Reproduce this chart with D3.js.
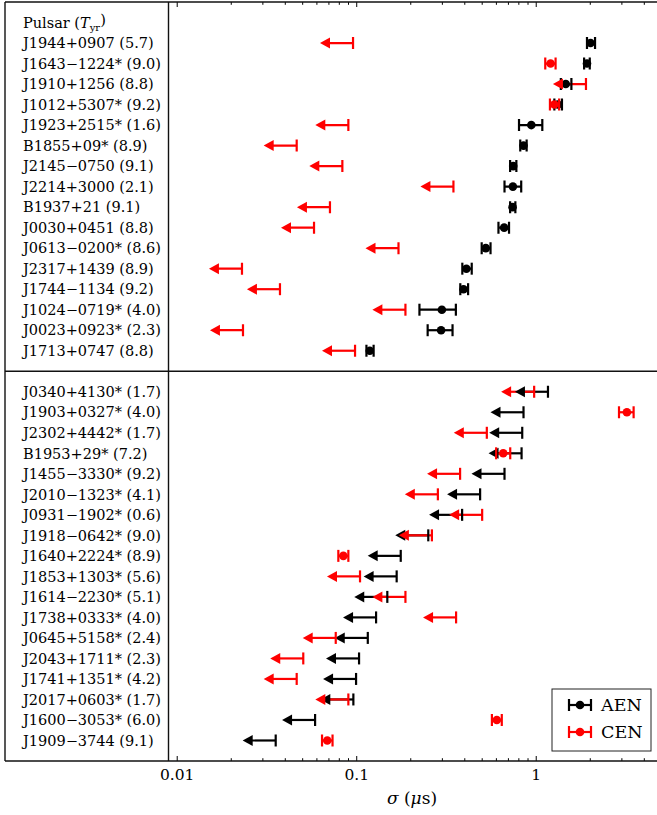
<!DOCTYPE html>
<html>
<head>
<meta charset="utf-8">
<script src="https://cdn.jsdelivr.net/npm/d3@7"></script>
<style>
body { margin: 0; background: #fff; }
svg text { font-family: "DejaVu Serif", serif; fill: #000; }
</style>
</head>
<body>
<div class="chart"></div>
<script>
// pulsars, top panel then bottom panel
let topPulsars = ['J1944+0907', 'J1643−1224*', 'J1910+1256', 'J1012+5307*', 'J1923+2515*',
  'B1855+09*', 'J2145−0750', 'J2214+3000', 'B1937+21', 'J0030+0451', 'J0613−0200*',
  'J2317+1439', 'J1744−1134', 'J1024−0719*', 'J0023+0923*', 'J1713+0747'];
let topYears = ['5.7', '9.0', '8.8', '9.2', '1.6', '8.9', '9.1', '2.1', '9.1', '8.8', '8.6',
  '8.9', '9.2', '4.0', '2.3', '8.8'];
let bottomPulsars = ['J0340+4130*', 'J1903+0327*', 'J2302+4442*', 'B1953+29*', 'J1455−3330*',
  'J2010−1323*', 'J0931−1902*', 'J1918−0642*', 'J1640+2224*', 'J1853+1303*', 'J1614−2230*',
  'J1738+0333*', 'J0645+5158*', 'J2043+1711*', 'J1741+1351*', 'J2017+0603*', 'J1600−3053*',
  'J1909−3744'];
let bottomYears = ['1.7', '4.0', '1.7', '7.2', '9.2', '4.1', '0.6', '9.0', '8.9', '5.6', '5.1',
  '4.0', '2.4', '2.3', '4.2', '1.7', '6.0', '9.1'];

// sigma in microseconds, low/high null means an upper limit at value
let aenValue = [2.02, 1.93, 1.47, 1.33, 0.945, 0.855, 0.749, 0.746, 0.743, 0.667, 0.527,
  0.411, 0.396, 0.30, 0.297, 0.119,
  1.17, 0.855, 0.841, 0.834, 0.67, 0.49, 0.389, 0.252, 0.177, 0.168, 0.149,
  0.129, 0.116, 0.1037, 0.0998, 0.0964, 0.059, 0.0356];
let aenLow = [1.93, 1.86, 1.38, 1.27, 0.807, 0.82, 0.72, 0.67, 0.72, 0.62, 0.50,
  0.39, 0.38, 0.225, 0.25, 0.114,
  null, null, null, null, null, null, null, null, null, null, null,
  null, null, null, null, null, null, null];
let aenHigh = [2.14, 2.00, 1.58, 1.40, 1.088, 0.89, 0.78, 0.83, 0.77, 0.71, 0.56,
  0.44, 0.42, 0.359, 0.344, 0.125,
  null, null, null, null, null, null, null, null, null, null, null,
  null, null, null, null, null, null, null];

let cenValue = [0.096, 1.21, 1.905, 1.27, 0.0904, 0.0466, 0.0837, 0.348, 0.0714, 0.0582, 0.172,
  0.0231, 0.0376, 0.188, 0.0234, 0.0985,
  0.98, 3.22, 0.534, 0.659, 0.379, 0.285, 0.503, 0.264, 0.0848, 0.105, 0.188,
  0.36, 0.0769, 0.0507, 0.0466, 0.0904, 0.607, 0.069];
let cenLow = [null, 1.13, null, 1.20, null, null, null, null, null, null, null,
  null, null, null, null, null,
  null, 2.91, null, 0.602, null, null, null, null, 0.0795, null, null,
  null, null, null, null, null, 0.57, 0.0645];
let cenHigh = [null, 1.29, null, 1.35, null, null, null, null, null, null, null,
  null, null, null, null, null,
  null, 3.51, null, 0.721, null, null, null, null, 0.0904, null, null,
  null, null, null, null, null, 0.647, 0.0738];

let seriesNames = ['AEN', 'CEN'];
let seriesColors = ['#000', '#f00'];
let majorTicks = [0.01, 0.1, 1];
let minorTicks = [0.02, 0.03, 0.04, 0.05, 0.06, 0.07, 0.08, 0.09,
  0.2, 0.3, 0.4, 0.5, 0.6, 0.7, 0.8, 0.9, 2, 3, 4];

let W = 657, H = 815;
let frameLeft = 5, plotLeft = 168.5, plotRight = 661.2, plotTop = 2, plotBottom = 761;
let arrowFactor = Math.pow(10, 0.184);

let x = d3.scaleLog().domain([0.009, 5]).range([plotLeft, plotRight]);
let y = d3.scaleLinear().domain([-1, 36]).range([plotTop, plotBottom]);

let names = topPulsars.concat(bottomPulsars);
let years = topYears.concat(bottomYears);
let rowOf = i => (i < topPulsars.length ? i + 1 : i + 2);
let dividerRow = topPulsars.length + 1;

let svg = d3.select('.chart').append('svg').attr('width', W).attr('height', H);

svg.append('clipPath').attr('id', 'plot')
  .append('rect').attr('x', plotLeft).attr('y', plotTop)
  .attr('width', plotRight - plotLeft).attr('height', plotBottom - plotTop);

// pulsar labels
let labels = svg.append('g');
let head = labels.append('text').attr('x', 23).attr('y', y(0)).attr('dy', '0.36em').style('font-size', '14.5px');
head.append('tspan').text('Pulsar (');
head.append('tspan').style('font-style', 'italic').text('T');
head.append('tspan').attr('dy', '0.3em').style('font-size', '10px').text('yr');
head.append('tspan').attr('dy', '-0.42em').text(')');

labels.selectAll('.name')
  .data(names)
  .enter()
  .append('text')
  .attr('class', 'name')
  .attr('x', 23)
  .attr('y', (d, i) => y(rowOf(i)))
  .attr('dy', '0.36em')
  .style('font-size', '14.5px')
  .text((d, i) => `${d} (${years[i]})`);

// points
function points(values, lows, highs, s) {
  return values.map((v, i) => ({
    v: v, lo: lows[i], hi: highs[i], row: rowOf(i), color: seriesColors[s], limit: lows[i] == null
  }));
}
let all = points(aenValue, aenLow, aenHigh, 0).concat(points(cenValue, cenLow, cenHigh, 1));

let plot = svg.append('g').attr('clip-path', 'url(#plot)');

// bar lines below markers
plot.selectAll('.bar')
  .data(all)
  .enter()
  .append('line')
  .attr('x1', d => (d.limit ? x(d.v / arrowFactor) + 4 : x(d.lo)))
  .attr('x2', d => (d.limit ? x(d.v) : x(d.hi)))
  .attr('y1', d => y(d.row))
  .attr('y2', d => y(d.row))
  .style('stroke', d => d.color)
  .style('stroke-width', 2.2);

let marks = plot.selectAll('.mark')
  .data(all)
  .enter()
  .append('g')
  .attr('transform', d => `translate(0,${y(d.row)})`);

marks.each(function(d) {
  let g = d3.select(this);
  let caps = d.limit ? [d.v] : [d.lo, d.hi];
  caps.forEach(c => {
    g.append('line')
      .attr('x1', x(c)).attr('x2', x(c))
      .attr('y1', -6).attr('y2', 6)
      .style('stroke', d.color)
      .style('stroke-width', 2.2);
  });
  if (d.limit) {
    let tip = x(d.v / arrowFactor);
    g.append('path')
      .attr('d', `M${tip},0L${tip + 10},-5.5L${tip + 10},5.5Z`)
      .style('fill', d.color);
  } else {
    g.append('circle').attr('cx', x(d.v)).attr('r', 4.3).style('fill', d.color);
  }
});

// axes, ticks inward
function drawAxis(axisFn, ypos) {
  let major = svg.append('g').attr('transform', `translate(0,${ypos})`)
    .call(axisFn(x).tickValues(majorTicks).tickSize(-5).tickPadding(8).tickFormat(d3.format('')));
  let minor = svg.append('g').attr('transform', `translate(0,${ypos})`)
    .call(axisFn(x).tickValues(minorTicks).tickSize(-2.8).tickFormat(''));
  [major, minor].forEach(a => {
    a.select('.domain').remove();
    a.selectAll('line').style('stroke', '#000').style('stroke-width', 1);
  });
  return major;
}
let bottomAxis = drawAxis(d3.axisBottom, plotBottom);
bottomAxis.selectAll('text').style('font-size', '15.5px').style('font-family', '"DejaVu Serif", serif');
let topAxis = drawAxis(d3.axisTop, plotTop);
topAxis.selectAll('text').remove();

// frame
let frame = svg.append('g').style('stroke', '#111').style('stroke-width', 1.4);
frame.append('line').attr('x1', frameLeft).attr('x2', W).attr('y1', plotTop).attr('y2', plotTop);
frame.append('line').attr('x1', frameLeft).attr('x2', W).attr('y1', plotBottom).attr('y2', plotBottom);
frame.append('line').attr('x1', frameLeft).attr('x2', W)
  .attr('y1', y(dividerRow)).attr('y2', y(dividerRow));
frame.append('line').attr('x1', frameLeft).attr('x2', frameLeft).attr('y1', plotTop).attr('y2', plotBottom);
frame.append('line').attr('x1', plotLeft).attr('x2', plotLeft).attr('y1', plotTop).attr('y2', plotBottom);

// axis label
let xlabel = svg.append('text')
  .attr('x', 412)
  .attr('y', 804)
  .attr('text-anchor', 'middle')
  .style('font-size', '17px');
xlabel.append('tspan').style('font-style', 'italic').text('σ');
xlabel.append('tspan').text(' (');
xlabel.append('tspan').style('font-style', 'italic').text('μ');
xlabel.append('tspan').text('s)');

// legend
let legend = svg.append('g').attr('transform', 'translate(552,689)');
legend.append('rect')
  .attr('width', 99).attr('height', 62)
  .style('fill', '#fff').style('stroke', '#222').style('stroke-width', 1);
let item = legend.selectAll('.item')
  .data(seriesNames)
  .enter()
  .append('g')
  .attr('transform', (d, i) => `translate(0,${16 + i * 27})`);
item.append('line').attr('x1', 17).attr('x2', 39)
  .style('stroke', (d, i) => seriesColors[i]).style('stroke-width', 2.2);
[17, 39].forEach(cx => {
  item.append('line').attr('x1', cx).attr('x2', cx).attr('y1', -6).attr('y2', 6)
    .style('stroke', (d, i) => seriesColors[i]).style('stroke-width', 2.2);
});
item.append('circle').attr('cx', 28).attr('r', 4.3).style('fill', (d, i) => seriesColors[i]);
item.append('text').attr('x', 49).attr('dy', '0.36em').style('font-size', '17.5px').text(d => d);
</script>
</body>
</html>
